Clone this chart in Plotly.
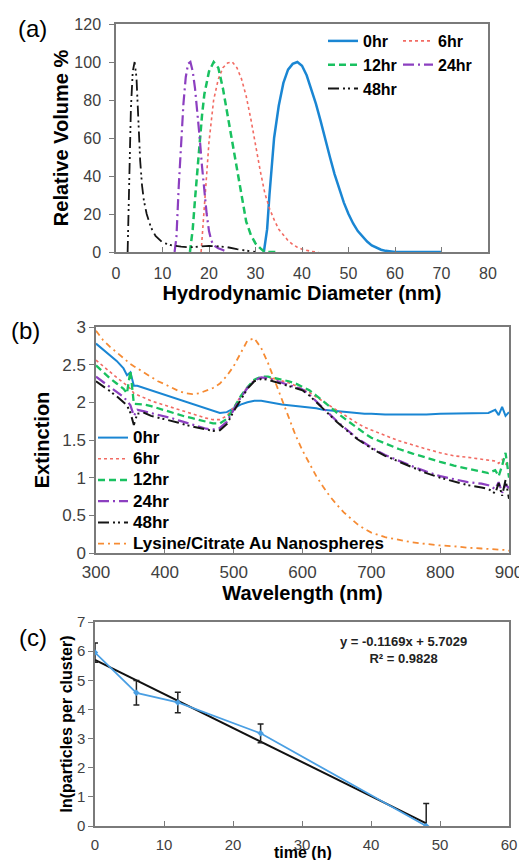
import plotly.graph_objects as go

# The page body has an 8px default margin, so the figure is sized to fill the
# 527x860 window from (8, 8); positions below are given in window pixels.
OFF = 8
W, H = 527 - OFF, 860 - OFF
FONT = "Arial, Liberation Sans, sans-serif"

# ---------------- Panel (a) data: DLS volume distributions ----------------
d0_x = [31.8, 32.5, 33, 34, 35, 36, 37, 38, 39, 40, 41, 42, 43, 44, 45, 46, 47, 48, 49, 50,
        51, 52, 53, 54, 55, 56, 57, 58, 59, 60, 70]
d0_y = [0, 12, 30, 60, 77, 89, 96, 99, 100, 98, 93, 86, 78, 69, 59, 50, 41, 33, 26, 20,
        15, 11, 8, 5.5, 3.5, 2.2, 1.2, 0.6, 0.2, 0, 0]
d6_x = [18.3, 19, 19.5, 20, 21, 22, 23, 24, 25, 26, 27, 28, 29, 30, 31, 32, 33, 34, 35, 36,
        37, 38, 39, 40, 41, 42, 43.5]
d6_y = [0, 25, 45, 58, 80, 91, 97, 99.5, 100, 97, 91, 82, 70, 56, 43, 31, 23, 17, 12, 9,
        6, 4, 2.5, 1.5, 0.8, 0.3, 0]
d12_x = [15.9, 16.5, 17, 17.5, 18, 18.5, 19, 20, 21, 22, 23, 24, 25, 26, 27, 28, 29, 30, 31, 32, 35]
d12_y = [0, 12, 28, 44, 58, 72, 83, 95, 100, 97, 86, 72, 58, 42, 28, 16, 9, 4.5, 2, 0, 0]
d24_x = [12.6, 13, 13.5, 14, 14.5, 15, 15.5, 16, 16.5, 17, 17.5, 18, 18.5, 19, 19.5, 20,
         20.5, 21, 22, 23, 24]
d24_y = [0, 8, 35, 58, 78, 92, 99, 100, 95, 86, 74, 60, 45, 31, 20, 11, 6, 3.5, 2, 1, 0]
d48_x = [2.5, 2.8, 3.2, 3.6, 4, 4.4, 4.8, 5.2, 5.6, 6, 6.6, 7.5, 8.5, 10, 12, 14, 16, 18, 20,
         22, 24, 26, 28, 30]
d48_y = [0, 30, 75, 95, 100, 92, 70, 48, 35, 27, 20, 13, 8.5, 5, 3.5, 2.8, 2.5, 2.8, 3.2,
         3, 2.5, 1.5, 0.8, 0]

# ---------------- Panel (b) data: extinction spectra ----------------
wl = ([300, 310, 320, 330, 340] + [345, 350, 355] +
      [360, 370, 380, 390, 400, 410, 420, 430, 440, 450, 460, 470, 480, 490, 500, 510, 520,
       530, 540, 550, 560, 570, 580, 590, 600, 610, 620, 630, 640, 650, 660, 670, 680, 690, 700] +
      [720, 740, 760, 780, 800, 820, 840, 860] + [870, 880, 885, 890, 895, 900])
ext_0 = ([2.78, 2.70, 2.62, 2.55, 2.45] + [2.36, 2.40, 2.22] +
         [2.22, 2.19, 2.16, 2.13, 2.10, 2.07, 2.04, 2.01, 1.98, 1.95, 1.91, 1.88, 1.86, 1.87,
          1.92, 1.97, 2.00, 2.02, 2.02, 2.00, 1.99, 1.97, 1.96, 1.95, 1.94, 1.93, 1.92, 1.90,
          1.89, 1.88, 1.87, 1.86, 1.86, 1.85, 1.85] +
         [1.84, 1.84, 1.84, 1.84, 1.85, 1.85, 1.85, 1.86] + [1.86, 1.90, 1.83, 1.94, 1.82, 1.87])
ext_6 = ([2.56, 2.48, 2.40, 2.33, 2.26] + [2.22, 2.18, 2.12] +
         [2.10, 2.05, 2.02, 1.99, 1.96, 1.93, 1.90, 1.87, 1.84, 1.82, 1.79, 1.77, 1.77, 1.82,
          1.93, 2.08, 2.20, 2.29, 2.33, 2.33, 2.31, 2.29, 2.26, 2.22, 2.18, 2.13, 2.07, 2.01,
          1.95, 1.89, 1.83, 1.77, 1.72, 1.67, 1.63] +
         [1.56, 1.49, 1.43, 1.38, 1.33, 1.29, 1.27, 1.24] + [1.23, 1.22, 1.19, 1.24, 1.18, 1.21])
ext_12 = ([2.49, 2.40, 2.32, 2.25, 2.18] + [2.12, 2.42, 1.98] +
          [1.98, 1.97, 1.95, 1.92, 1.90, 1.87, 1.84, 1.81, 1.79, 1.77, 1.74, 1.72, 1.72, 1.78,
           1.92, 2.08, 2.20, 2.30, 2.34, 2.34, 2.32, 2.30, 2.28, 2.25, 2.21, 2.16, 2.09, 2.02,
           1.94, 1.86, 1.79, 1.72, 1.65, 1.59, 1.53] +
          [1.45, 1.38, 1.32, 1.26, 1.21, 1.16, 1.12, 1.08] + [1.06, 1.10, 1.02, 1.16, 1.33, 1.00])
ext_24 = ([2.34, 2.27, 2.20, 2.14, 2.07] + [2.02, 1.96, 1.82] +
          [1.90, 1.88, 1.86, 1.84, 1.82, 1.79, 1.76, 1.73, 1.70, 1.68, 1.65, 1.64, 1.66, 1.74,
           1.90, 2.06, 2.19, 2.29, 2.33, 2.32, 2.29, 2.26, 2.24, 2.21, 2.17, 2.10, 2.01, 1.92,
           1.83, 1.75, 1.67, 1.59, 1.52, 1.46, 1.40] +
          [1.30, 1.22, 1.15, 1.08, 1.02, 0.98, 0.94, 0.92] + [0.90, 0.85, 0.94, 0.80, 0.91, 0.86])
ext_48 = ([2.28, 2.22, 2.15, 2.08, 2.00] + [1.96, 1.86, 1.70] +
          [1.85, 1.86, 1.82, 1.80, 1.78, 1.76, 1.73, 1.70, 1.68, 1.66, 1.64, 1.62, 1.63, 1.71,
           1.88, 2.04, 2.18, 2.28, 2.31, 2.30, 2.27, 2.24, 2.22, 2.19, 2.16, 2.09, 2.00, 1.91,
           1.82, 1.74, 1.66, 1.58, 1.51, 1.45, 1.39] +
          [1.29, 1.21, 1.13, 1.06, 1.00, 0.95, 0.90, 0.87] + [0.85, 0.79, 0.93, 0.76, 0.97, 0.72])
ext_lys = ([2.95, 2.83, 2.74, 2.66, 2.58] + [2.54, 2.51, 2.48] +
           [2.45, 2.39, 2.33, 2.28, 2.24, 2.19, 2.15, 2.12, 2.11, 2.12, 2.15, 2.19, 2.25, 2.35,
            2.48, 2.66, 2.82, 2.85, 2.72, 2.52, 2.28, 2.03, 1.79, 1.56, 1.36, 1.18, 1.02, 0.88,
            0.75, 0.64, 0.54, 0.46, 0.38, 0.32, 0.27] +
           [0.21, 0.17, 0.14, 0.12, 0.10, 0.09, 0.07, 0.06] + [0.055, 0.05, 0.05, 0.045, 0.04, 0.03])

# ---------------- Panel (c) data: ln(particles per cluster) ----------------
t_h = [0, 6, 12, 24, 48]
ln_ppc = [5.95, 4.57, 4.24, 3.18, 0.0]
ln_err = [0.33, 0.42, 0.35, 0.32, 0.77]
fit_slope = -0.1169
fit_intercept = 5.7029
fit_x = [0, 48]
fit_y = [fit_intercept + fit_slope * v for v in fit_x]

C_BLUE = "#1a86d3"
C_RED = "#f26b63"
C_GREEN = "#19c160"
C_PURPLE = "#8c3fc0"
C_BLACK = "#151515"
C_ORANGE = "#f68b33"

DASH_12 = "7px,4px"
DASH_24 = "11px,4px,2px,4px"
DASH_48 = "11px,4px,2px,3px,2px,4px"
DASH_LYS = "6px,4px,2px,4px"

def big(txt):
    # legend (b): larger text with tighter row spacing
    return '<span style="font-size:17px">' + txt + '</span>'

fig = go.Figure()

# panel (a)
fig.add_trace(go.Scatter(x=d0_x, y=d0_y, name="0hr", mode="lines", xaxis="x", yaxis="y",
                         line=dict(color=C_BLUE, width=2.5), legend="legend"))
fig.add_trace(go.Scatter(x=d6_x, y=d6_y, name="6hr", mode="lines", xaxis="x", yaxis="y",
                         line=dict(color=C_RED, width=1.6, dash="dot"), legend="legend2"))
fig.add_trace(go.Scatter(x=d12_x, y=d12_y, name="12hr", mode="lines", xaxis="x", yaxis="y",
                         line=dict(color=C_GREEN, width=2.5, dash=DASH_12), legend="legend"))
fig.add_trace(go.Scatter(x=d24_x, y=d24_y, name="24hr", mode="lines", xaxis="x", yaxis="y",
                         line=dict(color=C_PURPLE, width=2.2, dash=DASH_24), legend="legend2"))
fig.add_trace(go.Scatter(x=d48_x, y=d48_y, name="48hr", mode="lines", xaxis="x", yaxis="y",
                         line=dict(color=C_BLACK, width=1.8, dash=DASH_48), legend="legend"))

# panel (b)
fig.add_trace(go.Scatter(x=wl, y=ext_0, name=big("0hr"), mode="lines", xaxis="x2", yaxis="y2",
                         line=dict(color=C_BLUE, width=2), legend="legend3"))
fig.add_trace(go.Scatter(x=wl, y=ext_6, name=big("6hr"), mode="lines", xaxis="x2", yaxis="y2",
                         line=dict(color=C_RED, width=1.6, dash="dot"), legend="legend3"))
fig.add_trace(go.Scatter(x=wl, y=ext_12, name=big("12hr"), mode="lines", xaxis="x2", yaxis="y2",
                         line=dict(color=C_GREEN, width=2.3, dash=DASH_12), legend="legend3"))
fig.add_trace(go.Scatter(x=wl, y=ext_24, name=big("24hr"), mode="lines", xaxis="x2", yaxis="y2",
                         line=dict(color=C_PURPLE, width=2.2, dash=DASH_24), legend="legend3"))
fig.add_trace(go.Scatter(x=wl, y=ext_48, name=big("48hr"), mode="lines", xaxis="x2", yaxis="y2",
                         line=dict(color=C_BLACK, width=2, dash=DASH_48), legend="legend3"))
fig.add_trace(go.Scatter(x=wl, y=ext_lys, name=big("Lysine/Citrate Au Nanospheres"), mode="lines",
                         xaxis="x2", yaxis="y2",
                         line=dict(color=C_ORANGE, width=1.8, dash=DASH_LYS), legend="legend3"))

# panel (c)
fig.add_trace(go.Scatter(x=fit_x, y=fit_y, mode="lines", xaxis="x3", yaxis="y3", showlegend=False,
                         name="Linear fit", line=dict(color="#111111", width=2)))
fig.add_trace(go.Scatter(x=t_h, y=ln_ppc, mode="lines+markers", xaxis="x3", yaxis="y3",
                         showlegend=False, name="ln(particles per cluster)",
                         line=dict(color="#4a9fe3", width=1.8),
                         marker=dict(color="#4a9fe3", size=5, symbol="diamond"),
                         error_y=dict(type="data", array=ln_err, color="#222222",
                                      thickness=1.5, width=3)))

def px_x(p):
    return (p - OFF) / W

def px_y(p):
    return 1 - (p - OFF) / H

AX_LINE = "#7a7a7a"
TICK_COL = "#404040"

def axis(dom, anchor, rng, dtick, title, size, standoff, tfs, ticks, tls):
    return dict(domain=dom, anchor=anchor, range=rng, dtick=dtick, showline=True, mirror=True,
                linecolor=AX_LINE, linewidth=1.5, ticks=ticks, ticklen=5, tickcolor=AX_LINE,
                showgrid=False, zeroline=False, automargin=False, ticklabelstandoff=tls,
                tickfont=dict(size=tfs, color=TICK_COL),
                title=dict(text=title, font=dict(size=size, color="black", weight="bold"),
                           standoff=standoff))

leg_font = dict(size=16, color="black", weight="bold", family=FONT)
leg3_font = dict(size=14, color="black", weight="bold", family=FONT)

fig.update_layout(
    template="none",
    width=W, height=H,
    margin=dict(l=0, r=0, t=0, b=0, autoexpand=False),
    paper_bgcolor="white", plot_bgcolor="white",
    font=dict(family=FONT, color="black"),
    xaxis=axis([px_x(116), px_x(488)], "y", [0, 80], 10, "Hydrodynamic Diameter (nm)", 20, 0, 16, "inside", 6),
    yaxis=axis([px_y(252), px_y(24)], "x", [0, 120], 20, "Relative Volume %", 20, 0, 16, "outside", 5),
    xaxis2=axis([px_x(96), px_x(509)], "y2", [300, 900], 100, "Wavelength (nm)", 20, 0, 17, "inside", 3),
    yaxis2=axis([px_y(553), px_y(327)], "x2", [0, 3], 0.5, "Extinction", 20, 7, 17, "outside", 0),
    xaxis3=axis([px_x(95), px_x(509)], "y3", [0, 60], 10, "", 16, 0, 15, "inside", 4),
    yaxis3=axis([px_y(826), px_y(622)], "x3", [0, 7], 1, "ln(particles per cluster)", 16, 0, 15, "outside", 0),
    legend=dict(x=px_x(323), y=px_y(24), xanchor="left", yanchor="top", bgcolor="rgba(0,0,0,0)",
                font=leg_font, itemwidth=30),
    legend2=dict(x=px_x(398), y=px_y(24), xanchor="left", yanchor="top", bgcolor="rgba(0,0,0,0)",
                 font=leg_font, itemwidth=30),
    legend3=dict(x=px_x(93), y=px_y(422), xanchor="left", yanchor="top", bgcolor="rgba(0,0,0,0)",
                 font=leg3_font, itemwidth=30),
    showlegend=True,
)

annotations = [
    dict(text="(a)", x=px_x(32), y=px_y(29), font=dict(size=24, color="black")),
    dict(text="(b)", x=px_x(25), y=px_y(330), font=dict(size=24, color="black")),
    dict(text="(c)", x=px_x(33), y=px_y(637), font=dict(size=24, color="black")),
    dict(text="y = -0.1169x + 5.7029<br>R² = 0.9828", x=px_x(403), y=px_y(650),
         font=dict(size=13, color="#222222", weight="bold"), align="center"),
    dict(text="time (h)", x=px_x(303), y=px_y(852), font=dict(size=16, color="black", weight="bold")),
]
for a in annotations:
    a.update(xref="paper", yref="paper", showarrow=False, xanchor="center", yanchor="middle")
fig.update_layout(annotations=annotations)

fig.write_html("out.html")
